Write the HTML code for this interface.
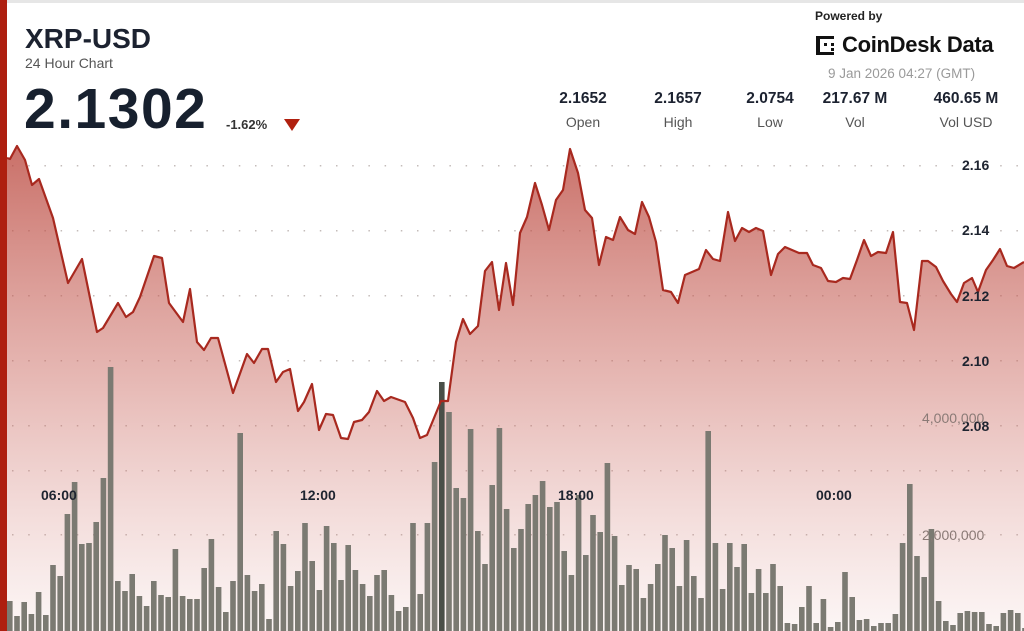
<!DOCTYPE html>
<html><head><meta charset="utf-8">
<style>
html,body{margin:0;padding:0;background:#fff;}
body{width:1024px;height:631px;overflow:hidden;position:relative;font-family:"Liberation Sans",sans-serif;}
.t{position:absolute;white-space:nowrap;}
</style></head>
<body>
<svg id="s" width="1024" height="631" style="position:absolute;left:0;top:0">
<defs>
<linearGradient id="g" x1="0" y1="140" x2="0" y2="631" gradientUnits="userSpaceOnUse">
<stop offset="0" stop-color="#b9453b" stop-opacity="0.78"/>
<stop offset="0.5" stop-color="#c9655c" stop-opacity="0.45"/>
<stop offset="1" stop-color="#d88a84" stop-opacity="0.08"/>
</linearGradient>
</defs>
<rect x="0" y="0" width="1024" height="3" fill="#e6e6e6"/>
<g id="grid"></g>
<path id="area" fill="url(#g)"/>
<g id="bars"></g>
<polyline id="line" fill="none" stroke="#a8291f" stroke-width="2.2" stroke-linejoin="round"/>
<rect x="0" y="0" width="7" height="631" fill="#ae1f10"/>
<g font-family="Liberation Sans, sans-serif" font-weight="bold" font-size="14" fill="#1e2430">
<text x="962" y="170">2.16</text>
<text x="962" y="235">2.14</text>
<text x="962" y="301">2.12</text>
<text x="962" y="366">2.10</text>
<text x="962" y="431">2.08</text>
<text x="41" y="500">06:00</text>
<text x="300" y="500">12:00</text>
<text x="558" y="500">18:00</text>
<text x="816" y="500">00:00</text>
</g>
<g font-family="Liberation Sans, sans-serif" font-size="14" fill="#8a7a76">
<text x="922" y="423">4,000,000</text>
<text x="922" y="540">2,000,000</text>
</g>
</svg>
<div class="t" style="left:25px;top:23px;font-size:28px;font-weight:bold;color:#1c2230">XRP-USD</div>
<div class="t" style="left:25px;top:55px;font-size:14px;color:#555">24 Hour Chart</div>
<div class="t" style="left:24px;top:76px;font-size:57px;font-weight:bold;color:#17202e;letter-spacing:1.5px">2.1302</div>
<div class="t" style="left:226px;top:117px;font-size:13px;font-weight:bold;color:#333">-1.62%</div>
<div class="t" style="left:284px;top:119px;width:0;height:0;border-left:8px solid transparent;border-right:8px solid transparent;border-top:12px solid #b0200f"></div>
<div class="t" style="left:815px;top:9px;font-size:12px;font-weight:bold;color:#222">Powered by</div>
<div class="t" style="left:816px;top:35px;width:20px;height:20px">
<svg width="22" height="22"><g fill="#111"><rect x="0" y="1" width="4" height="19"/><rect x="0" y="1" width="18" height="3"/><rect x="0" y="17" width="18" height="3"/><rect x="8" y="8" width="3" height="3"/><rect x="15" y="8" width="3" height="3"/><rect x="15" y="13" width="3" height="3"/></g></svg></div>
<div class="t" style="left:842px;top:32px;font-size:22px;font-weight:bold;color:#111;letter-spacing:-0.3px">CoinDesk Data</div>
<div class="t" style="left:828px;top:66px;font-size:13.5px;color:#9a9a9a">9 Jan 2026 04:27 (GMT)</div>
<div id="stats"></div>
<script>
var ns="http://www.w3.org/2000/svg";
function el(t,a,p){var e=document.createElementNS(ns,t);for(var k in a)e.setAttribute(k,a[k]);p.appendChild(e);return e;}
var grid=document.getElementById('grid');
[165,230,295,360,425,470,534].forEach(function(y){for(var x=12;x<1020;x+=16.2){el('rect',{x:x,y:y,width:1.5,height:1.5,fill:'#c4bcba'},grid);}});
var pts=[[7,158],[10,159],[17,146],[25,160],[32,185],[39,179],[53,218],[68,283],[82,259],[97,332],[103,328],[118,303],[126,317],[133,312],[140,297],[154,256],[162,258],[169,303],[183,322],[190,289],[197,342],[204,350],[211,338],[218,338],[233,393],[247,354],[254,363],[262,349],[268,349],[276,382],[283,372],[290,369],[298,411],[304,402],[312,384],[319,430],[326,414],[333,415],[341,438],[348,439],[354,422],[362,420],[369,412],[377,391],[384,401],[391,397],[405,402],[413,418],[420,438],[427,435],[441,401],[448,401],[456,342],[463,319],[470,334],[478,326],[485,271],[492,262],[499,310],[506,263],[513,305],[520,233],[527,217],[535,183],[542,205],[549,230],[556,200],[563,190],[570,149],[578,173],[585,210],[592,218],[599,265],[606,237],[613,240],[620,217],[628,230],[635,234],[642,202],[649,217],[656,242],[663,290],[671,292],[678,303],[685,275],[692,272],[699,269],[706,250],[713,259],[720,261],[728,212],[735,241],[742,228],[749,232],[756,228],[763,231],[771,275],[778,254],[785,247],[792,250],[799,253],[807,253],[813,265],[821,268],[828,281],[836,282],[843,278],[850,279],[857,260],[864,240],[871,256],[878,252],[886,253],[893,232],[900,302],[907,303],[914,330],[922,261],[928,261],[936,267],[943,281],[951,294],[957,302],[964,283],[972,278],[978,292],[986,270],[993,260],[1000,249],[1007,266],[1014,268],[1024,262]];
var s=pts.map(function(p){return p[0]+','+p[1]}).join(' ');
document.getElementById('line').setAttribute('points',s);
document.getElementById('area').setAttribute('d','M7,631 L'+s.replace(/ /g,' L')+' L1024,631 Z');
var tops=[601,616,602,614,592,615,565,576,514,482,544,543,522,478,367,581,591,574,596,606,581,595,597,549,596,599,599,568,539,587,612,581,433,575,591,584,619,531,544,586,571,523,561,590,526,543,580,545,570,584,596,575,570,595,611,607,523,594,523,462,382,412,488,498,429,531,564,485,428,509,548,529,504,495,481,507,502,551,575,495,555,515,532,463,536,585,565,569,598,584,564,535,548,586,540,576,598,431,543,589,543,567,544,593,569,593,564,586,623,624,607,586,623,599,627,622,572,597,620,619,626,623,623,614,543,484,556,577,529,601,621,625,613,611,612,612,624,626,613,610,613,628];
var bars=document.getElementById('bars');
tops.forEach(function(t,i){var x=7+i*7.2;el('rect',{x:x.toFixed(1),y:t,width:5.6,height:631-t,fill:i==60?'#4a4f48':'#7b7a72'},bars);});
var st=[[583,'2.1652','Open'],[678,'2.1657','High'],[770,'2.0754','Low'],[855,'217.67 M','Vol'],[966,'460.65 M','Vol USD']];
var h='';st.forEach(function(a){h+='<div class="t" style="left:'+(a[0]-60)+'px;width:120px;text-align:center;top:90px;font-size:15.5px;font-weight:bold;color:#1c2230">'+a[1]+'</div><div class="t" style="left:'+(a[0]-60)+'px;width:120px;text-align:center;top:114px;font-size:14px;color:#555">'+a[2]+'</div>';});
document.getElementById('stats').innerHTML=h;
</script>
</body></html>
